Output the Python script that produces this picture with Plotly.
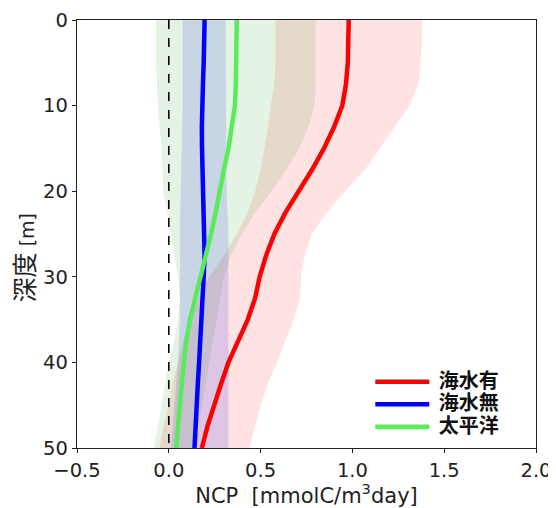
import plotly.graph_objects as go

depth = [0, 2.5, 5, 7.5, 10, 12.5, 15, 17.5, 20, 22.5, 25, 27.5, 30,
         32.5, 35, 37.5, 40, 42.5, 45, 47.5, 50]

# 海水有 (red)
ice_mean = [0.98, 0.98, 0.975, 0.965, 0.945, 0.90, 0.845, 0.78, 0.71, 0.635, 0.575,
            0.53, 0.495, 0.47, 0.43, 0.375, 0.325, 0.285, 0.245, 0.21, 0.18]
ice_upper = [1.38, 1.38, 1.37, 1.36, 1.31, 1.23, 1.15, 1.07, 0.96, 0.86, 0.78,
             0.74, 0.72, 0.715, 0.68, 0.635, 0.59, 0.54, 0.50, 0.47, 0.44]
ice_lower = [0.58, 0.58, 0.58, 0.575, 0.555, 0.54, 0.52, 0.50, 0.47, 0.43, 0.37,
             0.30, 0.22, 0.16, 0.12, 0.08, 0.05, 0.02, 0.0, -0.03, -0.05]

# 海水無 (blue)
noice_mean = [0.195, 0.195, 0.19, 0.186, 0.182, 0.18, 0.181, 0.183, 0.186, 0.19, 0.193,
              0.195, 0.19, 0.185, 0.18, 0.172, 0.165, 0.158, 0.152, 0.146, 0.14]
noice_upper = [0.31, 0.31, 0.31, 0.31, 0.31, 0.312, 0.313, 0.314, 0.315, 0.32, 0.325,
               0.325, 0.325, 0.325, 0.325, 0.325, 0.325, 0.325, 0.325, 0.325, 0.325]
noice_lower = [0.075, 0.075, 0.075, 0.075, 0.075, 0.072, 0.07, 0.068, 0.065, 0.062, 0.06,
               0.06, 0.06, 0.06, 0.06, 0.055, 0.05, 0.04, 0.03, 0.02, 0.01]

# 太平洋 (green)
pac_mean = [0.37, 0.37, 0.37, 0.365, 0.36, 0.345, 0.325, 0.30, 0.28, 0.255, 0.23,
            0.20, 0.175, 0.145, 0.115, 0.095, 0.08, 0.07, 0.06, 0.05, 0.04]
pac_upper = [0.80, 0.80, 0.80, 0.80, 0.795, 0.76, 0.71, 0.64, 0.56, 0.47, 0.40,
             0.34, 0.30, 0.28, 0.26, 0.24, 0.22, 0.20, 0.18, 0.16, 0.15]
pac_lower = [-0.07, -0.07, -0.07, -0.065, -0.06, -0.05, -0.04, -0.035, -0.03, -0.01, 0.01,
             0.03, 0.05, 0.06, 0.05, 0.03, 0.0, -0.02, -0.04, -0.06, -0.08]

series = [
    ("海水有", ice_mean, ice_lower, ice_upper, "rgb(255,0,0)", "rgba(255,0,0,0.11)"),
    ("海水無", noice_mean, noice_lower, noice_upper, "rgb(0,0,255)", "rgba(0,0,255,0.13)"),
    ("太平洋", pac_mean, pac_lower, pac_upper, "rgb(90,235,90)", "rgba(0,140,0,0.10)"),
]

x_ticks = [-0.5, 0.0, 0.5, 1.0, 1.5, 2.0]
x_ticklabels = ["−0.5", "0.0", "0.5", "1.0", "1.5", "2.0"]
y_ticks = [0, 10, 20, 30, 40, 50]

fig = go.Figure()

for name, m, lo, up, lc, fc in series:
    fig.add_trace(go.Scatter(
        x=list(up) + list(lo)[::-1], y=depth + depth[::-1],
        fill="toself", fillcolor=fc, line=dict(width=0), mode="lines",
        hoverinfo="skip", showlegend=False))

fig.add_trace(go.Scatter(x=[0, 0], y=[0, 50], mode="lines",
                         line=dict(color="black", width=1.6, dash="dash"),
                         showlegend=False))

for name, m, lo, up, lc, fc in series:
    fig.add_trace(go.Scatter(
        x=m, y=depth, mode="lines",
        name="<span style='font-size:20px'>&nbsp;" + name + "</span>",
        line=dict(color=lc, width=4.5)))

axis_common = dict(showline=True, linecolor="#222", linewidth=1.3, mirror=True,
                   ticks="outside", ticklen=4, tickwidth=1.3, tickcolor="#222",
                   showgrid=False, zeroline=False, automargin=False,
                   tickfont=dict(family="DejaVu Sans", size=19.5, color="#222"))

# the page body has an 8px margin, so the figure is sized to fit the window
fig.update_layout(
    template="none",
    width=548, height=500,
    margin=dict(l=69, r=20, t=12, b=60, autoexpand=False),
    plot_bgcolor="white", paper_bgcolor="white",
    xaxis=dict(range=[-0.5, 2.0], tickvals=x_ticks, ticktext=x_ticklabels,
               title=dict(text="NCP  [mmolC/m<sup>3</sup>day]",
                          font=dict(family="DejaVu Sans", size=21, color="#222"),
                          standoff=10),
               **axis_common),
    yaxis=dict(range=[50, 0], tickvals=y_ticks, **axis_common),
    legend=dict(x=0.639, y=0.193, xanchor="left", yanchor="top",
                bgcolor="rgba(0,0,0,0)", itemwidth=54,
                font=dict(family="Noto Sans CJK JP", size=15, color="#111",
                          weight="bold"),
                tracegroupgap=0),
    annotations=[dict(
        text="<span style='font-family:Noto Sans CJK JP;font-size:25px'>深度</span> [m]",
        x=-0.118, y=0.445, xref="paper", yref="paper", showarrow=False,
        xanchor="center", yanchor="middle",
        textangle=-90, font=dict(family="DejaVu Sans", size=19, color="#222"))],
)

fig.write_html("out.html")
